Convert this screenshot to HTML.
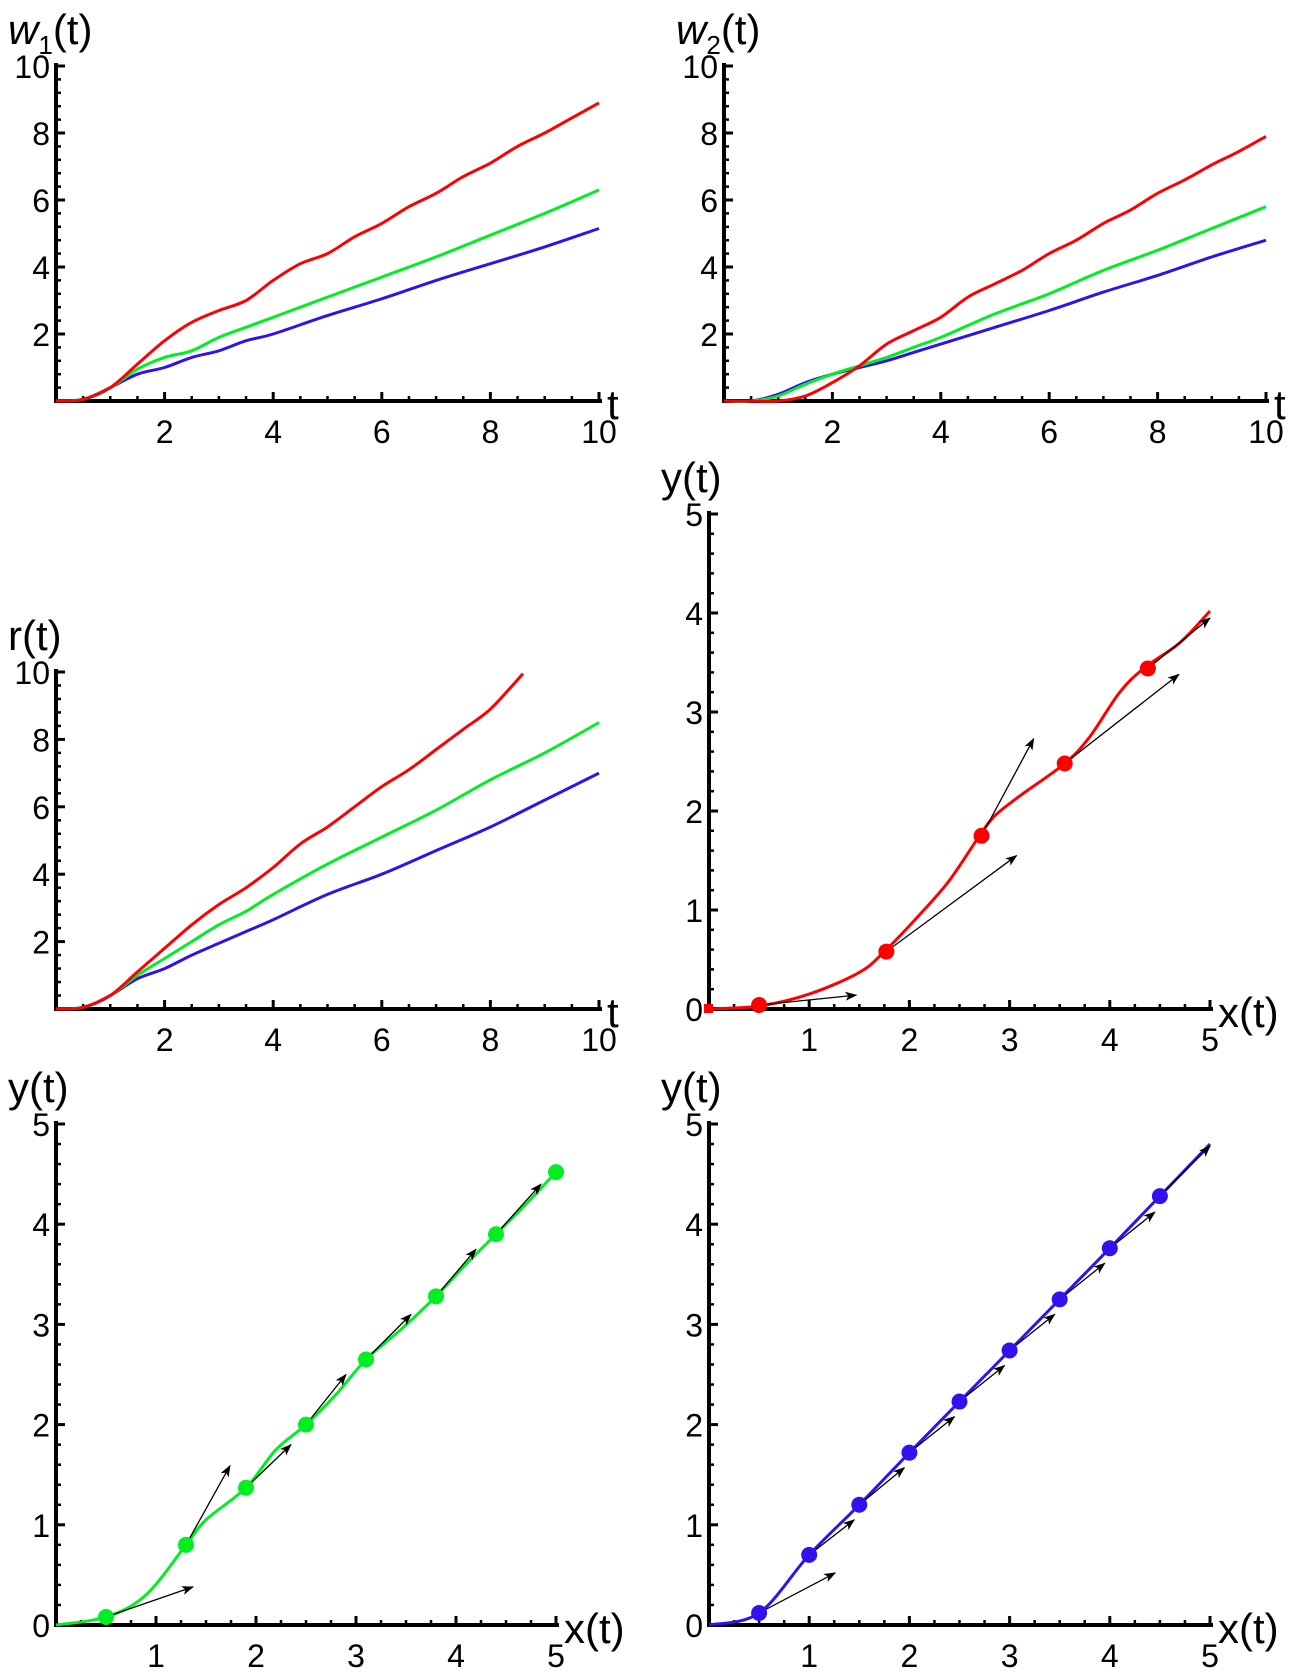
<!DOCTYPE html>
<html><head><meta charset="utf-8"><style>
html,body{margin:0;padding:0;background:#fff;}
svg{display:block;font-family:"Liberation Sans",sans-serif;}
</style></head><body>
<svg id="fig" width="1308" height="1680" viewBox="0 0 1308 1680"></svg>
<script>
// ---- data ----
const w1T=[0,0.5,1,1.5,2,2.5,3,3.5,4,4.5,5,5.5,6,6.5,7,7.5,8,8.5,9,9.5,10];
const w1Red=[0,0.05,0.4,1.1,1.8,2.35,2.7,3.0,3.6,4.1,4.4,4.9,5.3,5.8,6.2,6.7,7.1,7.6,8.0,8.45,8.9];
const w1GT=[0,0.5,1,1.5,2,2.5,3,3.5,4,4.5,5,5.5,6,7,8,9,10];
const w1Green=[0,0.05,0.4,0.95,1.3,1.5,1.9,2.2,2.5,2.8,3.1,3.4,3.7,4.3,4.95,5.6,6.3];
const w1BT=[0,0.5,1,1.5,2,2.5,3,3.5,4,5,6,7,8,9,10];
const w1Blue=[0,0.05,0.4,0.8,1.0,1.3,1.5,1.8,2.0,2.55,3.05,3.6,4.1,4.6,5.15];

const w2T=[0,0.5,1,1.5,2,2.5,3,3.5,4,4.5,5,5.5,6,6.5,7,7.5,8,8.5,9,9.5,10];
const w2Red=[0,0,0,0.15,0.55,1.05,1.7,2.1,2.5,3.1,3.5,3.9,4.4,4.8,5.3,5.7,6.2,6.6,7.05,7.45,7.9];
const w2GT=[0,0.5,1,1.5,2,2.5,3,3.5,4,5,6,7,8,9,10];
const w2Green=[0,0,0.15,0.5,0.8,1.05,1.3,1.6,1.9,2.6,3.2,3.9,4.5,5.15,5.8];
const w2Blue=[0,0,0.2,0.55,0.8,1.0,1.2,1.45,1.7,2.2,2.7,3.25,3.75,4.3,4.8];

const rRT=[0,0.5,1,1.5,2,2.5,3,3.5,4,4.5,5,5.5,6,6.5,7,7.5,8,8.6];
const rRed=[0,0.05,0.4,1.1,1.8,2.5,3.1,3.6,4.2,4.9,5.4,6.0,6.6,7.1,7.7,8.3,8.9,9.95];
const rGT=[0,0.5,1,1.5,2,2.5,3,3.5,4,5,6,7,8,9,10];
const rGreen=[0,0.05,0.4,1.0,1.5,2.0,2.5,2.9,3.4,4.3,5.1,5.9,6.8,7.6,8.5];
const rBlue=[0,0.05,0.4,0.9,1.2,1.6,1.95,2.3,2.65,3.4,4.0,4.7,5.4,6.2,7.0];

const redX=[0,0.5,1,1.5,1.75,2.1,2.4,2.7,2.85,3.1,3.55,3.8,4.1,4.35,4.7,5];
const redY=[0,0.03,0.15,0.37,0.58,0.95,1.3,1.75,1.95,2.15,2.48,2.75,3.2,3.45,3.7,4.02];
const redDotX=[0.5,1.77,2.72,3.55,4.38];
const redDotY=[0.04,0.58,1.75,2.48,3.44];
const redArrX=[1.47,3.07,3.24,4.69,5.0];
const redArrY=[0.14,1.55,2.73,3.38,3.95];

const grnX=[0,0.5,0.9,1.3,1.5,1.9,2.2,2.5,2.8,3.1,3.45,3.8,4.1,4.4,4.7,5];
const grnY=[0,0.08,0.3,0.8,1.05,1.37,1.75,2.0,2.3,2.65,2.95,3.28,3.6,3.9,4.2,4.52];
const grnDotX=[0.5,1.3,1.9,2.5,3.1,3.8,4.4,5.0];
const grnDotY=[0.08,0.8,1.37,2.0,2.65,3.28,3.9,4.52];
const grnArrX=[1.37,1.74,2.35,2.9,3.55,4.2,4.85,5.05];
const grnArrY=[0.38,1.59,1.8,2.5,3.1,3.75,4.4,4.56];

const bluX=[0,0.5,1,1.5,2,2.5,3,3.5,4,4.5,5];
const bluY=[0,0.12,0.7,1.2,1.72,2.23,2.74,3.25,3.76,4.28,4.8];
const bluDotX=[0.5,1,1.5,2,2.5,3,3.5,4,4.5];
const bluDotY=[0.12,0.7,1.2,1.72,2.23,2.74,3.25,3.76,4.28];
const bluArrX=[1.26,1.45,1.95,2.45,2.95,3.45,3.95,4.45,5.0];
const bluArrY=[0.52,1.05,1.57,2.08,2.59,3.1,3.61,4.12,4.78];

const tTicks=[2,4,6,8,10], wTicks=[2,4,6,8,10], xyTicks=[1,2,3,4,5], yTicks=[0,1,2,3,4,5];
const RED="#ff0000", GRN="#00ee22", BLU="#3311ee";
// ---- drawing ----
const NS="http://www.w3.org/2000/svg", svg=document.getElementById('fig');
function el(tag,attrs,parent){const e=document.createElementNS(NS,tag);for(const k in attrs)e.setAttribute(k,attrs[k]);(parent||svg).appendChild(e);return e;}
svg.innerHTML='<defs><marker id="ah" markerWidth="12" markerHeight="9" refX="11" refY="4.5" orient="auto" markerUnits="userSpaceOnUse"><path d="M0,0 L12,4.5 L0,9 L3,4.5 Z" fill="#000"/></marker></defs>';
function panel(name,x0,x1,y0,y1,xmax,ymax,xt,yt,minor,xlab,ylab,ylabSub,showZero){
  const g=el('g',{});
  
  
  const sx=v=>x0+(x1-x0)*v/xmax, sy=v=>y0-(y0-y1)*v/ymax;
  el('line',{x1:x0,y1:y0,x2:x1+3,y2:y0,stroke:'#000','stroke-width':4},g);
  el('line',{x1:x0,y1:y0+2,x2:x0,y2:y1-3,stroke:'#000','stroke-width':4},g);
  for(let v=minor;v<=xmax+1e-9;v+=minor){const X=sx(v);const major=xt.some(m=>Math.abs(m-v)<1e-6);el('line',{x1:X,y1:y0,x2:X,y2:y0-(major?9:5),stroke:'#000','stroke-width':major?3:2.5},g);}
  const yminor=ymax/25;
  for(let v=yminor;v<=ymax+1e-9;v+=yminor){const Y=sy(v);const major=yt.some(m=>Math.abs(m-v)<1e-6);el('line',{x1:x0,y1:Y,x2:x0+(major?9:5),y2:Y,stroke:'#000','stroke-width':major?3:2.5},g);}
  xt.forEach(v=>{const t=el('text',{x:sx(v),y:y0+42,'font-size':32,'text-anchor':'middle'},g);t.textContent=v;});
  yt.forEach(v=>{if(v===0&&!showZero)return;const t=el('text',{x:x0-6,y:sy(v)+12,'font-size':32,'text-anchor':'end'},g);t.textContent=v;});
  const xl=el('text',{x:x1+8,y:y0+18,'font-size':42},g);xl.textContent=xlab;
  const yl=el('text',{x:x0-48,y:y1-22,'font-size':42},g);
  
  if(ylabSub){yl.innerHTML='<tspan font-style="italic">w</tspan><tspan font-size="26" dy="10">'+ylabSub+'</tspan><tspan dy="-10">(t)</tspan>';}
  else yl.textContent=ylab;
  return {g,sx,sy};
}
function curve(p,xs,ys,color,name){
  const P=xs.map((v,i)=>[p.sx(v),p.sy(ys[i])]);
  let d='M'+P[0][0].toFixed(1)+','+P[0][1].toFixed(1);
  for(let i=0;i<P.length-1;i++){
    const a=P[Math.max(0,i-1)],b=P[i],c=P[i+1],e=P[Math.min(P.length-1,i+2)];
    const c1=[b[0]+(c[0]-a[0])/6,b[1]+(c[1]-a[1])/6],c2=[c[0]-(e[0]-b[0])/6,c[1]-(e[1]-b[1])/6];
    d+=' C'+c1.map(v=>v.toFixed(1)).join(',')+' '+c2.map(v=>v.toFixed(1)).join(',')+' '+c.map(v=>v.toFixed(1)).join(',');
  }
  const e=el('path',{d:d,fill:'none',stroke:color,'stroke-width':3,'stroke-linejoin':'round'},p.g);
  
  
}
function dots(p,xs,ys,color,name){xs.forEach((v,i)=>{const c=el('circle',{cx:p.sx(v),cy:p.sy(ys[i]),r:8,fill:color},p.g);
  
  });}
function arrows(p,xs,ys,ex,ey,name){xs.forEach((v,i)=>{const a=el('line',{x1:p.sx(v),y1:p.sy(ys[i]),x2:p.sx(ex[i]),y2:p.sy(ey[i]),stroke:'#000','stroke-width':1.3,'marker-end':'url(#ah)'},p.g);
  
  });}

const p1=panel('w1-chart',56,599,401,66,10,10,tTicks,wTicks,0.5,'t','','1',false);
curve(p1,w1BT,w1Blue,BLU,'w1-blue-line');curve(p1,w1GT,w1Green,GRN,'w1-green-line');curve(p1,w1T,w1Red,RED,'w1-red-line');
const p2=panel('w2-chart',724,1266,401,66,10,10,tTicks,wTicks,0.5,'t','','2',false);
curve(p2,w2GT,w2Blue,BLU,'w2-blue-line');curve(p2,w2GT,w2Green,GRN,'w2-green-line');curve(p2,w2T,w2Red,RED,'w2-red-line');
const p3=panel('r-chart',56,599,1009,672,10,10,tTicks,wTicks,0.5,'t','r(t)',null,false);
curve(p3,rGT,rBlue,BLU,'r-blue-line');curve(p3,rGT,rGreen,GRN,'r-green-line');curve(p3,rRT,rRed,RED,'r-red-line');
const p4=panel('red-trajectory',709,1210,1009,514,5,5,xyTicks,yTicks,0.25,'x(t)','y(t)',null,true);
curve(p4,redX,redY,RED,'red-trajectory-line');arrows(p4,redDotX,redDotY,redArrX,redArrY,'velocity-arrow');dots(p4,redDotX,redDotY,RED,'red-point');
el('rect',{x:p4.sx(0)-5,y:p4.sy(0)-5,width:9,height:9,fill:RED},p4.g);
const p5=panel('green-trajectory',56,556,1625,1124,5,5,xyTicks,yTicks,0.25,'x(t)','y(t)',null,true);
curve(p5,grnX,grnY,GRN,'green-trajectory-line');arrows(p5,grnDotX,grnDotY,grnArrX,grnArrY,'velocity-arrow');dots(p5,grnDotX,grnDotY,GRN,'green-point');
const p6=panel('blue-trajectory',709,1210,1625,1124,5,5,xyTicks,yTicks,0.25,'x(t)','y(t)',null,true);
curve(p6,bluX,bluY,BLU,'blue-trajectory-line');arrows(p6,bluDotX,bluDotY,bluArrX,bluArrY,'velocity-arrow');dots(p6,bluDotX,bluDotY,BLU,'blue-point');
</script>
</body></html>
